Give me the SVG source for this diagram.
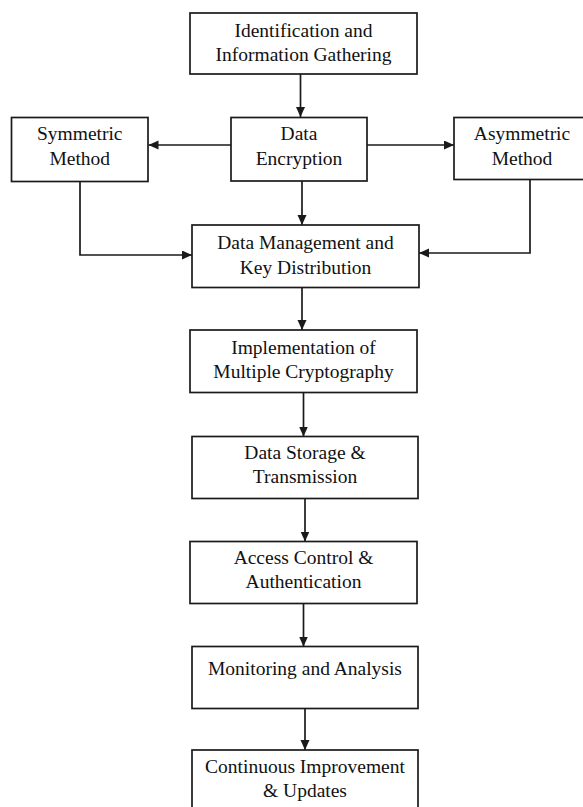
<svg xmlns="http://www.w3.org/2000/svg" width="583" height="807" viewBox="0 0 583 807">
<style>
.box{fill:#fff;stroke:#1a1a1a;stroke-width:1.7}
.lbl{font-family:"Liberation Serif","Times New Roman",serif;font-size:19.5px;fill:#111;text-anchor:middle}
.con{fill:none;stroke:#1a1a1a;stroke-width:1.7}
</style>
<defs>
<marker id="ah" markerUnits="userSpaceOnUse" markerWidth="11" markerHeight="10" refX="10" refY="4.5" orient="auto">
<path d="M0,0 L10,4.5 L0,9 z" fill="#1a1a1a"/>
</marker>
</defs>
<rect width="583" height="807" fill="#fff"/>
<g id="connectors">
<line class="con" x1="300.5" y1="74" x2="300.5" y2="117" marker-end="url(#ah)"/>
<line class="con" x1="231" y1="145" x2="148.5" y2="145" marker-end="url(#ah)"/>
<line class="con" x1="367" y1="145" x2="454" y2="145" marker-end="url(#ah)"/>
<line class="con" x1="302" y1="181" x2="302" y2="225" marker-end="url(#ah)"/>
<polyline class="con" points="80,181.5 80,255 192,255" marker-end="url(#ah)"/>
<polyline class="con" points="530,179.5 530,253 419,253" marker-end="url(#ah)"/>
<line class="con" x1="302" y1="287.5" x2="302" y2="330" marker-end="url(#ah)"/>
<line class="con" x1="303.5" y1="392.5" x2="303.5" y2="436.5" marker-end="url(#ah)"/>
<line class="con" x1="305" y1="498.5" x2="305" y2="541.5" marker-end="url(#ah)"/>
<line class="con" x1="303.5" y1="603.5" x2="303.5" y2="646.5" marker-end="url(#ah)"/>
<line class="con" x1="305" y1="708.5" x2="305" y2="750" marker-end="url(#ah)"/>
</g>
<g id="identification">
<rect class="box" x="190" y="13" width="227" height="61"/>
<text class="lbl" x="303.5" y="36.5">Identification and</text>
<text class="lbl" x="303.5" y="60.5">Information Gathering</text>
</g>
<g id="symmetric">
<rect class="box" x="11.5" y="117.5" width="136.5" height="64"/>
<text class="lbl" x="79.75" y="140">Symmetric</text>
<text class="lbl" x="79.75" y="165">Method</text>
</g>
<g id="encryption">
<rect class="box" x="231" y="117.5" width="136" height="63.5"/>
<text class="lbl" x="299" y="140">Data</text>
<text class="lbl" x="299" y="165">Encryption</text>
</g>
<g id="asymmetric">
<rect class="box" x="454" y="117.5" width="136" height="62"/>
<text class="lbl" x="522" y="140">Asymmetric</text>
<text class="lbl" x="522" y="164.5">Method</text>
</g>
<g id="management">
<rect class="box" x="192" y="225" width="227" height="62.5"/>
<text class="lbl" x="305.5" y="249">Data Management and</text>
<text class="lbl" x="305.5" y="273.5">Key Distribution</text>
</g>
<g id="implementation">
<rect class="box" x="190" y="330" width="227" height="62.5"/>
<text class="lbl" x="303.5" y="353.5">Implementation of</text>
<text class="lbl" x="303.5" y="377.5">Multiple Cryptography</text>
</g>
<g id="storage">
<rect class="box" x="192" y="436.5" width="226" height="62"/>
<text class="lbl" x="305" y="459">Data Storage &amp;</text>
<text class="lbl" x="305" y="483">Transmission</text>
</g>
<g id="access">
<rect class="box" x="190" y="541.5" width="227" height="62"/>
<text class="lbl" x="303.5" y="564">Access Control &amp;</text>
<text class="lbl" x="303.5" y="588">Authentication</text>
</g>
<g id="monitoring">
<rect class="box" x="192" y="646.5" width="226" height="62"/>
<text class="lbl" x="305" y="675">Monitoring and Analysis</text>
</g>
<g id="improvement">
<rect class="box" x="192" y="750" width="226" height="70"/>
<text class="lbl" x="305" y="773">Continuous Improvement</text>
<text class="lbl" x="305" y="797">&amp; Updates</text>
</g>
</svg>
